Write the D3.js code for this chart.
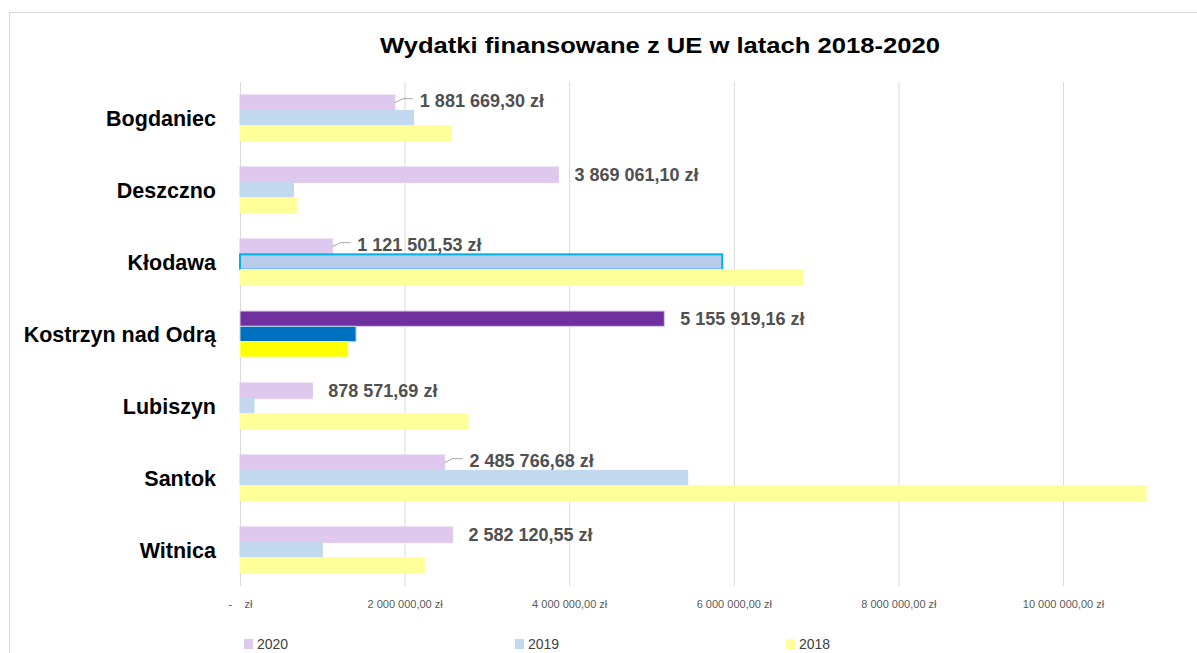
<!DOCTYPE html>
<html>
<head>
<meta charset="utf-8">
<script src="https://cdn.jsdelivr.net/npm/d3@7"></script>
<style>
  body { margin: 0; background: #fff; }
  svg { display: block; font-family: "Liberation Sans", Arial, sans-serif; }
</style>
</head>
<body>
<div id="chart"></div>
<script>
// Data
var gminy = ["Bogdaniec", "Deszczno", "Kłodawa", "Kostrzyn nad Odrą", "Lubiszyn", "Santok", "Witnica"];
var lata = ["2020", "2019", "2018"];
var wydatki2020 = [1881669.30, 3869061.10, 1121501.53, 5155919.16, 878571.69, 2485766.68, 2582120.55];
var wydatki2019 = [2110000, 650000, 5860000, 1410000, 170000, 5440000, 1000000];
var wydatki2018 = [2570000, 690000, 6840000, 1310000, 2770000, 11010000, 2240000];
var etykiety2020 = ["1 881 669,30 zł", "3 869 061,10 zł", "1 121 501,53 zł", "5 155 919,16 zł", "878 571,69 zł", "2 485 766,68 zł", "2 582 120,55 zł"];
var tickWartosci = [0, 2000000, 4000000, 6000000, 8000000, 10000000];
var tickEtykiety = ["-    zł", "2 000 000,00 zł", "4 000 000,00 zł", "6 000 000,00 zł", "8 000 000,00 zł", "10 000 000,00 zł"];

// labels that Excel pulled out with a leader line
var zLinia = ["Bogdaniec", "Kłodawa", "Santok"];

// colours
var kolory = { "2020": "#DEC8EE", "2019": "#C2D8EE", "2018": "#FFFF99" };
var wyroznione = { "Kostrzyn nad Odrą": { "2020": "#7030A0", "2019": "#0070C0", "2018": "#FFFF00" } };

var svgWidth = 1197, svgHeight = 653;

var svg = d3.select("#chart").append("svg")
  .attr("width", svgWidth)
  .attr("height", svgHeight);

// chart frame
svg.append("rect")
  .attr("x", 9.5).attr("y", 12.5)
  .attr("width", 1300).attr("height", 800)
  .attr("fill", "#fff")
  .attr("stroke", "#D9D9D9");

// title
svg.append("text")
  .attr("x", 660).attr("y", 53)
  .attr("text-anchor", "middle")
  .attr("font-size", "22px")
  .attr("font-weight", "bold")
  .attr("fill", "#000")
  .attr("textLength", 560)
  .attr("lengthAdjust", "spacingAndGlyphs")
  .text("Wydatki finansowane z UE w latach 2018-2020");

// scales
var x = d3.scaleLinear().domain([0, 10000000]).range([240, 1063]);
var y = d3.scaleBand().domain(gminy).range([82, 586]);
var yIn = d3.scaleBand().domain(lata).range([0, y.bandwidth()]).paddingOuter(0.85);

// gridlines + tick labels
var xAxis = d3.axisBottom(x)
  .tickValues(tickWartosci)
  .tickSize(-(586 - 82))
  .tickFormat(function(d, i) { return tickEtykiety[i]; });

var gx = svg.append("g")
  .attr("transform", "translate(0,586)")
  .call(xAxis);
gx.select(".domain").remove();
gx.selectAll(".tick line").attr("stroke", "#D9D9D9");
gx.selectAll(".tick text")
  .attr("y", 14)
  .attr("font-size", "11px")
  .attr("font-family", "Liberation Sans, Arial, sans-serif")
  .attr("fill", "#595959")
  .style("white-space", "pre");

// category labels
svg.append("g").selectAll("text")
  .data(gminy)
  .enter()
  .append("text")
  .attr("x", 216)
  .attr("y", function(d) { return y(d) + y.bandwidth() / 2; })
  .attr("dy", "0.35em")
  .attr("text-anchor", "end")
  .attr("font-size", "21.5px")
  .attr("font-weight", "bold")
  .attr("fill", "#000")
  .text(function(d) { return d; });

// bar records
var serie = { "2020": wydatki2020, "2019": wydatki2019, "2018": wydatki2018 };
var slupki = [];
gminy.forEach(function(g, i) {
  lata.forEach(function(r) {
    slupki.push({ gmina: g, rok: r, wartosc: serie[r][i] });
  });
});

svg.append("g").selectAll("rect")
  .data(slupki)
  .enter()
  .append("rect")
  .attr("x", x(0))
  .attr("y", function(d) { return y(d.gmina) + yIn(d.rok); })
  .attr("width", function(d) { return x(d.wartosc) - x(0); })
  .attr("height", yIn.bandwidth())
  .attr("fill", function(d) {
    if (wyroznione[d.gmina]) return wyroznione[d.gmina][d.rok];
    if (d.gmina === "Kłodawa" && d.rok === "2019") return "#B8CBE8";
    return kolory[d.rok];
  })
  .attr("stroke", function(d) {
    if (d.gmina === "Kłodawa" && d.rok === "2019") return "#00B0F0";
    return kolory[d.rok];
  })
  .attr("stroke-width", function(d) {
    return (d.gmina === "Kłodawa" && d.rok === "2019") ? 2 : 1;
  });

// data labels on 2020 series
var etykiety = gminy.map(function(g, i) {
  return { gmina: g, wartosc: wydatki2020[i], tekst: etykiety2020[i], linia: zLinia.indexOf(g) >= 0 };
});

function srodek(d) { return y(d.gmina) + yIn("2020") + yIn.bandwidth() / 2; }

svg.append("g").selectAll("polyline")
  .data(etykiety.filter(function(d) { return d.linia; }))
  .enter()
  .append("polyline")
  .attr("points", function(d) {
    var x0 = x(d.wartosc), c = srodek(d);
    return [[x0, c], [x0 + 8, c - 4], [x0 + 18, c - 4]].join(" ");
  })
  .attr("fill", "none")
  .attr("stroke", "#A6A6A6")
  .attr("stroke-width", 1);

svg.append("g").selectAll("text")
  .data(etykiety)
  .enter()
  .append("text")
  .attr("x", function(d) { return x(d.wartosc) + (d.linia ? 25 : 16); })
  .attr("y", function(d) { return srodek(d) - (d.linia ? 2 : 0); })
  .attr("dy", "0.35em")
  .attr("font-size", "18px")
  .attr("font-weight", "bold")
  .attr("fill", "#505050")
  .text(function(d) { return d.tekst; });

// legend
var legX = d3.scaleOrdinal().domain(lata).range([244, 515, 786]);
var leg = svg.append("g").selectAll("g")
  .data(lata)
  .enter()
  .append("g")
  .attr("transform", function(d) { return "translate(" + legX(d) + ",639)"; });

leg.append("rect")
  .attr("width", 9).attr("height", 10)
  .attr("fill", function(d) { return kolory[d]; });

leg.append("text")
  .attr("x", 13).attr("y", 5)
  .attr("dy", "0.35em")
  .attr("font-size", "14px")
  .attr("fill", "#404040")
  .text(function(d) { return d; });
</script>
</body>
</html>
